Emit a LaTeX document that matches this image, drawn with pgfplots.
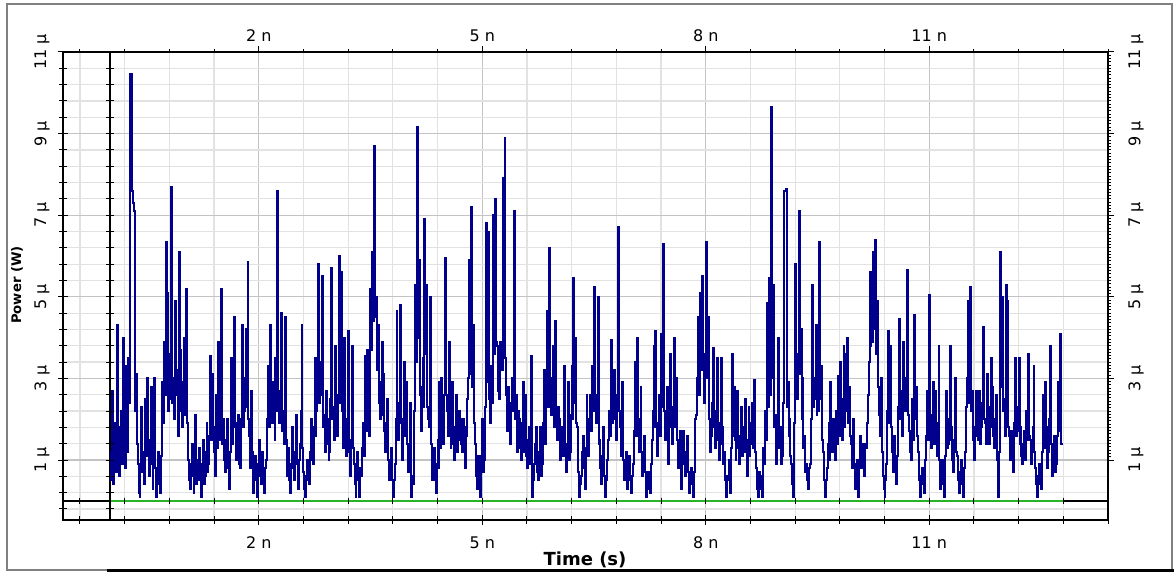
\documentclass[border=0pt]{standalone}
\usepackage{fontspec}
\setmainfont{DejaVu Sans}
\usepackage{pgfplots}
\usepackage{pgfplotstable}
\pgfplotsset{compat=1.18}
\definecolor{sig}{RGB}{0,0,140}
\definecolor{grn}{RGB}{40,180,40}
\definecolor{gmin}{RGB}{226,226,226}
\definecolor{gmaj}{RGB}{195,195,195}
\pgfplotstableread{
t p
0.0000 1.2
0.0125 0.5
0.0250 2.7
0.0375 1.3
0.0500 0.4
0.0625 1.0
0.0750 1.9
0.0875 0.7
0.1000 4.3
0.1125 1.5
0.1250 0.6
0.1375 1.8
0.1500 2.2
0.1625 0.9
0.1750 4.0
0.1875 1.6
0.2000 0.8
0.2125 1.9
0.2250 3.3
0.2375 1.2
0.2500 3.5
0.2625 2.4
0.2750 10.45
0.2875 10.45
0.3000 7.6
0.3125 7.3
0.3250 7.1
0.3375 2.2
0.3500 3.1
0.3625 1.4
0.3750 0.9
0.3875 0.2
0.4000 0.1
0.4125 0.8
0.4250 2.3
0.4375 0.7
0.4500 1.2
0.4625 0.4
0.4750 2.5
0.4875 1.1
0.5000 3.0
0.5125 1.3
0.5250 0.6
0.5375 1.5
0.5500 2.8
0.5625 0.9
0.5750 0.3
0.5875 1.4
0.6000 3.0
0.6125 0.8
0.6250 0.1
0.6375 0.6
0.6500 1.2
0.6625 0.4
0.6750 0.2
0.6875 1.1
0.7000 2.9
0.7125 1.9
0.7250 3.9
0.7375 2.6
0.7500 6.35
0.7625 3.4
0.7750 5.1
0.7875 2.2
0.8000 2.5
0.8125 3.6
0.8250 7.7
0.8375 2.4
0.8500 3.0
0.8625 2.0
0.8750 4.9
0.8875 3.2
0.9000 2.6
0.9125 1.6
0.9250 6.1
0.9375 2.5
0.9500 3.7
0.9625 2.2
0.9750 1.8
0.9875 2.9
1.0000 4.0
1.0125 2.1
1.0250 5.2
1.0375 1.9
1.0500 1.0
1.0625 0.5
1.0750 0.3
1.0875 0.9
1.1000 1.4
1.1125 0.6
1.1250 0.2
1.1375 0.8
1.1500 2.1
1.1625 0.4
1.1750 0.5
1.1875 1.0
1.2000 1.3
1.2125 0.5
1.2250 0.1
1.2375 0.9
1.2500 1.5
1.2625 0.4
1.2750 0.6
1.2875 1.2
1.3000 1.9
1.3125 0.7
1.3250 0.9
1.3375 1.6
1.3500 3.55
1.3625 1.5
1.3750 3.1
1.3875 1.8
1.4000 1.2
1.4125 0.6
1.4250 2.6
1.4375 1.3
1.4500 3.9
1.4625 1.7
1.4750 1.5
1.4875 2.3
1.5000 5.2
1.5125 1.4
1.5250 2.0
1.5375 1.0
1.5500 0.7
1.5625 1.5
1.5750 2.0
1.5875 0.8
1.6000 0.3
1.6125 1.2
1.6250 3.5
1.6375 1.4
1.6500 1.8
1.6625 2.6
1.6750 4.5
1.6875 1.9
1.7000 1.0
1.7125 1.6
1.7250 2.1
1.7375 0.9
1.7500 0.8
1.7625 2.0
1.7750 4.3
1.7875 1.8
1.8000 2.2
1.8125 3.0
1.8250 4.2
1.8375 2.3
1.8500 5.85
1.8625 2.0
1.8750 1.6
1.8875 0.8
1.9000 2.7
1.9125 1.2
1.9250 0.2
1.9375 0.7
1.9500 1.1
1.9625 0.5
1.9750 0.1
1.9875 0.9
2.0000 1.5
2.0125 0.6
2.0250 0.4
2.0375 1.1
2.0500 1.2
2.0625 0.5
2.0750 0.2
2.0875 0.8
2.1000 1.0
2.1125 2.0
2.1250 3.3
2.1375 1.8
2.1500 4.3
2.1625 2.0
2.1750 1.9
2.1875 2.9
2.2000 2.4
2.2125 1.5
2.2250 3.5
2.2375 2.2
2.2500 7.6
2.2625 2.7
2.2750 1.9
2.2875 2.6
2.3000 4.6
2.3125 1.7
2.3250 2.2
2.3375 1.4
2.3500 4.5
2.3625 1.5
2.3750 0.6
2.3875 1.0
2.4000 1.3
2.4125 0.5
2.4250 0.2
2.4375 0.9
2.4500 1.8
2.4625 0.8
2.4750 0.5
2.4875 1.2
2.5000 2.1
2.5125 0.9
2.5250 0.3
2.5375 1.0
2.5500 1.4
2.5625 2.2
2.5750 4.3
2.5875 1.3
2.6000 0.7
2.6125 0.3
2.6250 0.1
2.6375 0.6
2.6500 1.0
2.6625 0.5
2.6750 0.4
2.6875 1.2
2.7000 2.0
2.7125 1.0
2.7250 0.9
2.7375 1.8
2.7500 3.5
2.7625 1.6
2.7750 2.2
2.7875 3.1
2.8000 5.8
2.8125 2.4
2.8250 2.6
2.8375 3.4
2.8500 5.5
2.8625 1.8
2.8750 2.1
2.8875 1.2
2.9000 2.7
2.9125 1.4
2.9250 2.0
2.9375 1.0
2.9500 1.2
2.9625 2.5
2.9750 5.7
2.9875 2.0
3.0000 2.3
3.0125 1.5
3.0250 3.8
3.0375 2.0
3.0500 1.6
3.0625 2.6
3.0750 6.0
3.0875 2.4
3.1000 5.6
3.1125 2.2
3.1250 2.1
3.1375 1.3
3.1500 4.0
3.1625 1.8
3.1750 1.1
3.1875 2.0
3.2000 4.15
3.2125 1.2
3.2250 0.6
3.2375 1.5
3.2500 3.8
3.2625 1.3
3.2750 0.9
3.2875 0.4
3.3000 0.1
3.3125 0.7
3.3250 1.2
3.3375 0.5
3.3500 0.1
3.3625 0.8
3.3750 0.6
3.3875 1.3
3.4000 1.9
3.4125 1.1
3.4250 3.55
3.4375 1.7
3.4500 3.7
3.4625 2.2
3.4750 1.6
3.4875 2.8
3.5000 5.2
3.5125 3.7
3.5250 6.1
3.5375 4.4
3.5500 8.7
3.5625 4.5
3.5750 5.0
3.5875 3.2
3.6000 4.3
3.6125 2.4
3.6250 2.0
3.6375 2.9
3.6500 3.9
3.6625 2.1
3.6750 3.1
3.6875 1.7
3.7000 1.2
3.7125 1.9
3.7250 2.5
3.7375 1.0
3.7500 0.5
3.7625 0.9
3.7750 1.3
3.7875 0.5
3.8000 0.1
3.8125 0.5
3.8250 0.9
3.8375 2.0
3.8500 4.65
3.8625 2.1
3.8750 1.5
3.8875 2.4
3.9000 4.8
3.9125 1.9
3.9250 1.0
3.9375 2.0
3.9500 3.4
3.9625 1.6
3.9750 2.9
3.9875 1.4
4.0000 0.7
4.0125 1.2
4.0250 2.4
4.0375 0.8
4.0500 0.1
4.0625 0.6
4.0750 0.4
4.0875 2.2
4.1000 5.3
4.1125 3.4
4.1250 9.15
4.1375 4.0
4.1500 5.9
4.1625 2.6
4.1750 1.7
4.1875 2.8
4.2000 3.5
4.2125 2.3
4.2250 6.9
4.2375 3.6
4.2500 5.3
4.2625 2.3
4.2750 2.0
4.2875 1.8
4.3000 5.0
4.3125 1.4
4.3250 0.5
4.3375 0.9
4.3500 1.3
4.3625 0.5
4.3750 0.2
4.3875 0.9
4.4000 1.5
4.4125 0.8
4.4250 2.9
4.4375 1.3
4.4500 3.0
4.4625 1.8
4.4750 1.4
4.4875 2.6
4.5000 5.95
4.5125 2.6
4.5250 2.2
4.5375 1.6
4.5500 3.9
4.5625 1.9
4.5750 1.3
4.5875 2.0
4.6000 2.9
4.6125 1.4
4.6250 1.0
4.6375 1.8
4.6500 2.6
4.6625 1.2
4.6750 1.5
4.6875 2.2
4.7000 2.0
4.7125 1.4
4.7250 1.2
4.7375 2.0
4.7500 1.8
4.7625 1.1
4.7750 0.8
4.7875 1.6
4.8000 2.5
4.8125 3.0
4.8250 5.9
4.8375 3.1
4.8500 7.2
4.8625 2.8
4.8750 4.3
4.8875 1.9
4.9000 1.4
4.9125 0.6
4.9250 0.3
4.9375 0.9
4.9500 1.1
4.9625 0.5
4.9750 0.1
4.9875 1.1
5.0000 2.0
5.0125 0.7
5.0250 1.0
5.0375 2.3
5.0500 6.8
5.0625 2.9
5.0750 6.6
5.0875 2.5
5.1000 1.9
5.1125 3.3
5.1250 3.1
5.1375 2.4
5.1500 7.0
5.1625 3.6
5.1750 7.4
5.1875 3.9
5.2000 3.8
5.2125 2.7
5.2250 2.5
5.2375 3.9
5.2500 3.8
5.2625 3.2
5.2750 7.9
5.2875 4.4
5.3000 8.9
5.3125 3.5
5.3250 2.6
5.3375 1.7
5.3500 2.8
5.3625 2.0
5.3750 1.4
5.3875 2.4
5.4000 3.0
5.4125 2.2
5.4250 7.1
5.4375 2.0
5.4500 2.6
5.4625 1.2
5.4750 1.5
5.4875 2.2
5.5000 2.0
5.5125 1.3
5.5250 1.0
5.5375 1.9
5.5500 2.9
5.5625 1.2
5.5750 2.6
5.5875 1.1
5.6000 0.8
5.6125 1.5
5.6250 1.8
5.6375 0.9
5.6500 3.55
5.6625 0.6
5.6750 0.1
5.6875 0.5
5.7000 0.9
5.7125 1.4
5.7250 1.8
5.7375 0.7
5.7500 0.5
5.7625 1.2
5.7750 1.8
5.7875 0.6
5.8000 0.9
5.8125 1.9
5.8250 3.2
5.8375 1.4
5.8500 1.6
5.8625 2.7
5.8750 4.65
5.8875 2.3
5.9000 6.2
5.9125 3.0
5.9250 2.1
5.9375 2.8
5.9500 3.8
5.9625 1.8
5.9750 4.4
5.9875 1.9
6.0000 1.5
6.0125 2.3
6.0250 2.0
6.0375 1.2
6.0500 1.0
6.0625 1.7
6.0750 1.8
6.0875 1.1
6.1000 3.3
6.1125 1.3
6.1250 0.7
6.1375 1.4
6.1500 2.9
6.1625 1.0
6.1750 1.2
6.1875 2.1
6.2000 3.3
6.2125 2.0
6.2250 5.45
6.2375 2.4
6.2500 4.0
6.2625 1.9
6.2750 1.8
6.2875 0.7
6.3000 0.1
6.3125 0.4
6.3250 0.6
6.3375 1.2
6.3500 1.6
6.3625 0.8
6.3750 0.3
6.3875 1.3
6.4000 2.6
6.4125 1.2
6.4250 1.1
6.4375 2.0
6.4500 2.6
6.4625 1.7
6.4750 3.3
6.4875 2.2
6.5000 5.25
6.5125 2.6
6.5250 1.9
6.5375 2.4
6.5500 5.0
6.5625 1.4
6.5750 1.5
6.5875 0.8
6.6000 0.4
6.6125 1.1
6.6250 1.8
6.6375 0.6
6.6500 0.1
6.6625 0.5
6.6750 1.0
6.6875 1.5
6.7000 2.2
6.7125 1.6
6.7250 3.95
6.7375 1.9
6.7500 3.1
6.7625 2.0
6.7750 3.2
6.7875 2.5
6.8000 1.5
6.8125 2.6
6.8250 6.7
6.8375 2.2
6.8500 1.8
6.8625 1.1
6.8750 2.9
6.8875 1.0
6.9000 0.5
6.9125 0.9
6.9250 1.2
6.9375 0.6
6.9500 0.3
6.9625 0.8
6.9750 1.1
6.9875 0.5
7.0000 0.2
7.0125 0.6
7.0250 0.9
7.0375 1.7
7.0500 3.4
7.0625 1.6
7.0750 4.0
7.0875 1.9
7.1000 1.2
7.1125 2.0
7.1250 2.8
7.1375 1.2
7.1500 0.6
7.1625 1.1
7.1750 1.6
7.1875 0.7
7.2000 0.1
7.2125 0.5
7.2250 0.7
7.2375 0.3
7.2500 0.2
7.2625 0.9
7.2750 1.5
7.2875 2.2
7.3000 3.8
7.3125 1.8
7.3250 4.15
7.3375 1.9
7.3500 1.1
7.3625 1.8
7.3750 2.6
7.3875 1.6
7.4000 4.1
7.4125 2.3
7.4250 6.3
7.4375 2.2
7.4500 1.5
7.4625 2.1
7.4750 2.8
7.4875 1.3
7.5000 0.9
7.5125 1.8
7.5250 3.6
7.5375 1.9
7.5500 1.4
7.5625 2.3
7.5750 4.0
7.5875 1.8
7.6000 3.0
7.6125 1.5
7.6250 0.8
7.6375 1.3
7.6500 1.7
7.6625 0.8
7.6750 0.3
7.6875 1.0
7.7000 1.7
7.7125 0.9
7.7250 0.6
7.7375 1.2
7.7500 1.6
7.7625 0.7
7.7750 0.2
7.7875 0.6
7.8000 0.8
7.8125 0.4
7.8250 0.1
7.8375 0.7
7.8500 1.2
7.8625 2.0
7.8750 2.1
7.8875 3.0
7.9000 4.5
7.9125 2.6
7.9250 5.1
7.9375 3.2
7.9500 5.5
7.9625 3.4
7.9750 2.4
7.9875 3.6
8.0000 6.35
8.0125 3.0
8.0250 4.5
8.0375 2.2
8.0500 2.0
8.0625 1.2
8.0750 1.6
8.0875 2.4
8.1000 3.75
8.1125 1.8
8.1250 1.3
8.1375 2.2
8.1500 3.5
8.1625 1.5
8.1750 1.0
8.1875 1.9
8.2000 3.5
8.2125 1.4
8.2250 1.8
8.2375 0.9
8.2500 1.2
8.2625 0.5
8.2750 0.1
8.2875 0.6
8.3000 0.5
8.3125 1.0
8.3250 0.2
8.3375 1.3
8.3500 3.6
8.3625 1.6
8.3750 2.8
8.3875 1.5
8.4000 1.0
8.4125 1.9
8.4250 2.7
8.4375 1.3
8.4500 0.9
8.4625 1.6
8.4750 2.3
8.4875 1.1
8.5000 1.2
8.5125 1.8
8.5250 2.5
8.5375 1.2
8.5500 0.6
8.5625 1.5
8.5750 2.3
8.5875 1.1
8.6000 1.4
8.6125 1.9
8.6250 2.4
8.6375 1.3
8.6500 2.95
8.6625 1.2
8.6750 0.8
8.6875 0.3
8.7000 0.1
8.7125 0.7
8.7250 0.6
8.7375 0.3
8.7500 0.1
8.7625 0.8
8.7750 1.3
8.7875 0.9
8.8000 2.2
8.8125 1.5
8.8250 4.85
8.8375 2.3
8.8500 5.45
8.8625 2.6
8.8750 9.65
8.8875 3.0
8.9000 5.3
8.9125 1.8
8.9250 2.1
8.9375 1.0
8.9500 0.9
8.9625 1.7
8.9750 4.0
8.9875 1.3
9.0000 1.8
9.0125 0.9
9.0250 1.1
9.0375 2.4
9.0500 7.6
9.0625 7.6
9.0750 7.65
9.0875 2.3
9.1000 2.9
9.1125 1.6
9.1250 2.0
9.1375 1.1
9.1500 0.9
9.1625 0.4
9.1750 0.1
9.1875 1.9
9.2000 5.8
9.2125 2.8
9.2250 2.5
9.2375 3.6
9.2500 7.1
9.2625 3.1
9.2750 4.2
9.2875 2.0
9.3000 3.0
9.3125 1.3
9.3250 1.6
9.3375 0.7
9.3500 0.9
9.3625 0.5
9.3750 0.3
9.3875 0.8
9.4000 0.9
9.4125 2.0
9.4250 5.3
9.4375 2.3
9.4500 2.5
9.4625 3.0
9.4750 4.3
9.4875 2.1
9.5000 3.0
9.5125 2.2
9.5250 6.35
9.5375 2.5
9.5500 3.3
9.5625 1.5
9.5750 1.2
9.5875 0.5
9.6000 0.1
9.6125 0.5
9.6250 0.8
9.6375 1.4
9.6500 1.9
9.6625 1.0
9.6750 2.9
9.6875 1.3
9.7000 1.2
9.7125 2.0
9.7250 1.6
9.7375 1.0
9.7500 2.2
9.7625 1.4
9.7750 3.05
9.7875 1.6
9.8000 3.4
9.8125 2.0
9.8250 1.5
9.8375 2.5
9.8500 3.8
9.8625 1.8
9.8750 3.6
9.8875 2.2
9.9000 4.0
9.9125 1.9
9.9250 2.8
9.9375 1.6
9.9500 1.4
9.9625 0.8
9.9750 2.0
9.9875 0.9
10.0000 0.3
10.0125 0.7
10.0250 1.0
10.0375 0.4
10.0500 0.1
10.0625 0.9
10.0750 1.6
10.0875 0.8
10.1000 1.4
10.1125 0.9
10.1250 0.6
10.1375 1.4
10.1500 1.3
10.1625 1.9
10.1750 2.6
10.1875 3.4
10.2000 5.6
10.2125 3.8
10.2250 4.9
10.2375 3.9
10.2500 6.1
10.2625 4.2
10.2750 6.4
10.2875 3.6
10.3000 4.9
10.3125 2.8
10.3250 2.1
10.3375 1.6
10.3500 3.0
10.3625 1.2
10.3750 0.6
10.3875 0.3
10.4000 0.1
10.4125 0.5
10.4250 0.9
10.4375 2.2
10.4500 4.15
10.4625 1.9
10.4750 3.8
10.4875 1.8
10.5000 1.2
10.5125 0.7
10.5250 1.6
10.5375 0.9
10.5500 0.4
10.5625 1.1
10.5750 1.8
10.5875 2.3
10.6000 4.45
10.6125 2.0
10.6250 2.7
10.6375 1.6
10.6500 3.9
10.6625 2.4
10.6750 2.2
10.6875 3.0
10.7000 5.65
10.7125 2.1
10.7250 1.7
10.7375 1.2
10.7500 1.0
10.7625 1.8
10.7750 2.5
10.7875 1.5
10.8000 4.55
10.8125 2.0
10.8250 2.8
10.8375 1.6
10.8500 1.2
10.8625 0.5
10.8750 0.1
10.8875 0.6
10.9000 0.8
10.9125 0.4
10.9250 0.2
10.9375 0.9
10.9500 1.0
10.9625 1.6
10.9750 2.7
10.9875 1.5
11.0000 5.05
11.0125 1.8
11.0250 1.3
11.0375 2.1
11.0500 2.9
11.0625 1.4
11.0750 2.7
11.0875 1.6
11.1000 1.1
11.1125 1.9
11.1250 3.8
11.1375 1.0
11.1500 0.3
11.1625 0.8
11.1750 1.0
11.1875 0.4
11.2000 0.1
11.2125 1.1
11.2250 2.7
11.2375 1.3
11.2500 1.4
11.2625 2.0
11.2750 3.8
11.2875 1.5
11.3000 1.8
11.3125 1.0
11.3250 0.7
11.3375 1.5
11.3500 3.0
11.3625 1.2
11.3750 1.1
11.3875 0.5
11.4000 0.2
11.4125 0.7
11.4250 1.0
11.4375 0.4
11.4500 0.1
11.4625 0.8
11.4750 1.2
11.4875 2.0
11.5000 2.3
11.5125 3.0
11.5250 4.9
11.5375 2.4
11.5500 5.25
11.5625 2.2
11.5750 2.7
11.5875 1.5
11.6000 1.0
11.6125 1.8
11.6250 2.7
11.6375 1.6
11.6500 1.5
11.6625 2.2
11.6750 2.7
11.6875 1.4
11.7000 1.8
11.7125 2.4
11.7250 4.25
11.7375 2.0
11.7500 1.9
11.7625 1.4
11.7750 3.1
11.7875 1.7
11.8000 1.4
11.8125 2.3
11.8250 3.5
11.8375 1.8
11.8500 2.8
11.8625 1.6
11.8750 1.3
11.8875 2.0
11.9000 2.6
11.9125 1.0
11.9250 0.1
11.9375 1.2
11.9500 6.1
11.9625 2.8
11.9750 5.0
11.9875 2.2
12.0000 2.5
12.0125 1.6
12.0250 5.3
12.0375 2.3
12.0500 4.9
12.0625 1.8
12.0750 1.6
12.0875 1.0
12.1000 1.7
12.1125 1.2
12.1250 0.7
12.1375 1.9
12.1500 3.5
12.1625 1.6
12.1750 1.7
12.1875 2.3
12.2000 3.5
12.2125 1.4
12.2250 1.8
12.2375 1.1
12.2500 0.9
12.2625 1.4
12.2750 1.7
12.2875 1.0
12.3000 2.2
12.3125 1.5
12.3250 3.6
12.3375 1.6
12.3500 1.5
12.3625 0.9
12.3750 1.2
12.3875 1.8
12.4000 3.3
12.4125 1.2
12.4250 0.8
12.4375 0.4
12.4500 0.1
12.4625 0.6
12.4750 0.9
12.4875 0.4
12.5000 0.3
12.5125 1.2
12.5250 2.6
12.5375 1.3
12.5500 2.9
12.5625 1.4
12.5750 1.8
12.5875 0.8
12.6000 1.2
12.6125 2.0
12.6250 3.8
12.6375 1.4
12.6500 0.6
12.6625 1.1
12.6750 1.6
12.6875 0.7
12.7000 0.9
12.7125 1.6
12.7250 2.9
12.7375 1.7
12.7500 4.1
12.7625 2.3
12.7750 1.4
12.8000 1.4
}\powerdata
\begin{document}
\begin{tikzpicture}
\useasboundingbox (0,0) rectangle (587pt,286pt);
\draw[gray, line width=0.7pt] (3.5pt,1pt) rectangle (586pt,284pt);
\draw[black, line width=1.5pt] (53.5pt,0.65pt) -- (587pt,0.65pt);
\begin{axis}[
  at={(31.5pt,26pt)}, anchor=south west, scale only axis,
  width=522.5pt, height=234pt,
  xmin=-0.627, xmax=13.4, ymin=-0.47, ymax=11,
  xtick={2,5,8,11}, xticklabels={2 n,5 n,8 n,11 n},
  ytick={1,3,5,7,9,11}, yticklabels={1 μ,3 μ,5 μ,7 μ,9 μ,11 μ},
  minor xtick={-0.4,0.2,0.8,1.4,2.0,2.6,3.2,3.8,4.4,5.0,5.6,6.2,6.8,7.4,8.0,8.6,9.2,9.8,10.4,11.0,11.6,12.2,12.8,13.4},
  minor ytick={-0.2,0.2,0.6,1.0,1.4,1.8,2.2,2.6,3.0,3.4,3.8,4.2,4.6,5.0,5.4,5.8,6.2,6.6,7.0,7.4,7.8,8.2,8.6,9.0,9.4,9.8,10.2,10.6,11.0},
  grid=both,
  major grid style={gmaj, line width=0.6pt},
  minor grid style={gmin, line width=0.6pt},
  xtick pos=left, ytick pos=left, tick align=center,
  major tick length=5pt, minor tick length=4pt,
  tick style={black, line width=0.5pt},
  axis line style={black, line width=0.9pt},
  ticklabel style={font=\fontsize{8}{9}\selectfont},
  xticklabel style={anchor=center, yshift=-9pt},
  yticklabel style={anchor=center, xshift=-8pt, rotate=90},
]
\addplot[black, line width=0.9pt] coordinates {(-0.627,0) (13.4,0)};
\addplot[grn, line width=0.8pt] coordinates {(0,0) (12.8,0)};
\addplot[black, line width=0.9pt] coordinates {(0,-0.47) (0,11)};
\addplot[black, only marks, mark=-, mark size=2pt, mark options={line width=0.5pt}] coordinates {(0,-0.2) (0,0.2) (0,0.6) (0,1.0) (0,1.4) (0,1.8) (0,2.2) (0,2.6) (0,3.0) (0,3.4) (0,3.8) (0,4.2) (0,4.6) (0,5.0) (0,5.4) (0,5.8) (0,6.2) (0,6.6) (0,7.0) (0,7.4) (0,7.8) (0,8.2) (0,8.6) (0,9.0) (0,9.4) (0,9.8) (0,10.2) (0,10.6)};
\addplot[black, only marks, mark=|, mark size=1.6pt, mark options={line width=0.5pt}] coordinates {(-0.4,0) (0.2,0) (0.8,0) (1.4,0) (2.0,0) (2.6,0) (3.2,0) (3.8,0) (4.4,0) (5.0,0) (5.6,0) (6.2,0) (6.8,0) (7.4,0) (8.0,0) (8.6,0) (9.2,0) (9.8,0) (10.4,0) (11.0,0) (11.6,0) (12.2,0) (12.8,0)};
\addplot[sig, line width=1.0pt, const plot] table[x=t, y=p] {\powerdata};
\end{axis}
\begin{axis}[
  at={(31.5pt,26pt)}, anchor=south west, scale only axis,
  width=522.5pt, height=234pt,
  xmin=-0.627, xmax=13.4, ymin=-0.47, ymax=11,
  xtick={2,5,8,11}, xticklabels={2 n,5 n,8 n,11 n},
  ytick={1,3,5,7,9,11}, yticklabels={1 μ,3 μ,5 μ,7 μ,9 μ,11 μ},
  minor xtick={-0.4,0.2,0.8,1.4,2.6,3.2,3.8,4.4,5.6,6.2,6.8,7.4,8.6,9.2,9.8,10.4,11.6,12.2,12.8,13.4},
  minor y tick num=24,
  xtick pos=right, xticklabel pos=right, ytick pos=right, yticklabel pos=right,
  tick align=outside,
  major tick length=3pt, minor tick length=1.6pt,
  tick style={black, line width=0.5pt},
  axis line style={black, line width=0.8pt},
  ticklabel style={font=\fontsize{8}{9}\selectfont},
  xticklabel style={anchor=center, yshift=5pt},
  yticklabel style={anchor=center, xshift=11pt, rotate=90},
]
\end{axis}
\node[font=\bfseries\fontsize{9}{10}\selectfont] at (292.5pt,6pt) {Time (s)};
\node[font=\bfseries\fontsize{6.6}{8}\selectfont, rotate=90] at (8.5pt,143.5pt) {Power (W)};
\end{tikzpicture}
\end{document}
